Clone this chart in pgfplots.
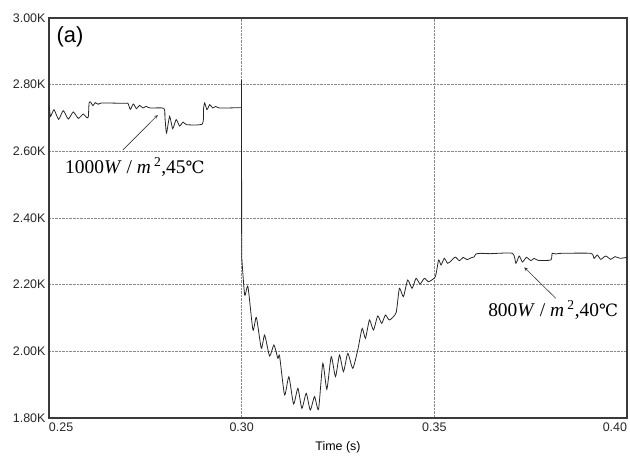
\documentclass[border=0pt]{standalone}
\usepackage{fontspec}
\setmainfont{Liberation Sans}
\newfontfamily\tnr{Liberation Serif}
\newfontfamily\dvs{DejaVu Serif}
\usepackage{pgfplots}
\pgfplotsset{compat=1.18}
\definecolor{axgray}{HTML}{3A3A3A}
\definecolor{gridgray}{HTML}{8A8A8A}
\begin{document}
\begin{tikzpicture}
\begin{axis}[
  scale only axis, width=578bp, height=400bp,
  xmin=0.25, xmax=0.40, ymin=1.80, ymax=3.00,
  axis line style={axgray, line width=1.6pt},
  xtick={0.25,0.30,0.35,0.40},
  xticklabels={\hbox to 0pt{0.25\hss},0.30,0.35,\hbox to 0pt{\hss 0.40}},
  ytick={1.8,2.0,2.2,2.4,2.6,2.8,3.0},
  yticklabels={1.80K,2.00K,2.20K,2.40K,2.60K,2.80K,3.00K},
  tick style={draw=none},
  ticklabel style={font=\fontsize{12.5}{13}\selectfont, text=black!85},
  xticklabel style={yshift=-1bp},
  grid=major,
  major grid style={gridgray, densely dotted, line width=0.7pt},
  xlabel={Time (s)},
  xlabel style={font=\fontsize{12.5}{13}\selectfont, at={(0.5,0)}, anchor=north, yshift=-20bp},
  clip=true,
]
\addplot[black!85, line width=0.8pt, smooth, tension=0.35] coordinates {
(0.2500,2.740)(0.2504,2.705)(0.2513,2.725)(0.2525,2.696)(0.2537,2.722)(0.2550,2.697)
(0.2563,2.718)(0.2576,2.699)(0.2589,2.712)(0.2597,2.702)(0.2602,2.703)(0.2604,2.745)
(0.2608,2.748)(0.2614,2.737)(0.2620,2.746)(0.2628,2.741)(0.2636,2.745)(0.2700,2.744)
(0.2705,2.744)(0.2711,2.726)(0.2719,2.742)(0.2727,2.728)(0.2735,2.738)(0.2744,2.730)
(0.2752,2.735)(0.2762,2.730)(0.2798,2.729)(0.2801,2.700)(0.2805,2.655)(0.2813,2.705)
(0.2821,2.668)(0.2830,2.695)(0.2839,2.676)(0.2848,2.688)(0.2857,2.680)(0.2898,2.682)
(0.2901,2.728)(0.2904,2.745)(0.2910,2.725)(0.2917,2.740)(0.2925,2.730)(0.2933,2.735)
(0.2942,2.730)(0.29995,2.731)
};
\addplot[black!85, line width=0.8pt] coordinates {
(0.29995,2.731)(0.29996,2.815)(0.30000,2.285)
};
\addplot[black!85, line width=0.8pt, smooth, tension=0.35] coordinates {
(0.30000,2.285)
(0.30078,2.169)(0.30163,2.194)(0.30293,2.064)(0.30381,2.102)(0.30510,2.009)(0.30596,2.049)
(0.30725,1.986)(0.30837,2.019)(0.30940,1.979)(0.30984,1.986)(0.31114,1.869)(0.31225,1.924)
(0.31347,1.842)(0.31459,1.889)(0.31562,1.829)(0.31676,1.874)(0.31780,1.824)(0.31891,1.864)
(0.31995,1.826)(0.32106,1.964)(0.32210,1.886)(0.32324,1.984)(0.32435,1.924)(0.32539,1.989)
(0.32642,1.939)(0.32754,1.994)(0.32883,1.949)(0.33013,2.004)(0.33127,2.069)(0.33212,2.039)
(0.33316,2.094)(0.33420,2.064)(0.33531,2.106)(0.33635,2.084)(0.33731,2.109)(0.33834,2.094)
(0.34008,2.116)(0.34093,2.189)(0.34197,2.164)(0.34308,2.214)(0.34422,2.189)(0.34526,2.219)
(0.34630,2.202)(0.34741,2.219)(0.34852,2.209)(0.35026,2.224)(0.35111,2.274)(0.35174,2.259)
(0.35259,2.279)(0.35345,2.264)(0.3544,2.272)(0.3554,2.283)(0.3565,2.272)(0.3575,2.282)
(0.3585,2.275)(0.3596,2.281)(0.3603,2.283)(0.3608,2.292)(0.3620,2.294)(0.3645,2.293)
(0.37028,2.294)(0.37116,2.264)(0.37202,2.286)(0.37288,2.268)(0.37391,2.282)(0.37505,2.272)
(0.3759,2.279)(0.3769,2.273)(0.38023,2.274)(0.38057,2.294)(0.3815,2.292)(0.3830,2.294)
(0.39060,2.294)(0.39145,2.279)(0.3923,2.289)(0.39318,2.276)(0.39448,2.286)(0.39578,2.276)
(0.39689,2.284)(0.3982,2.279)(0.4000,2.282)
};
\draw[-stealth, axgray, line width=0.6pt] (axis cs:0.26917,2.604) -- (axis cs:0.27824,2.709);
\draw[-stealth, axgray, line width=0.6pt] (axis cs:0.38153,2.159) -- (axis cs:0.37332,2.252);
\node[font=\tnr\fontsize{19.5}{21}\selectfont, fill=white, inner sep=1pt] at (axis cs:0.27228,2.553)
  {1000\textit{W} / \textit{m}\,\textsuperscript{2},45{\dvs\fontsize{17}{18}\selectfont ℃}};
\node[font=\tnr\fontsize{19.5}{21}\selectfont, fill=white, inner sep=1pt] at (axis cs:0.38083,2.124)
  {800\textit{W} / \textit{m}\,\textsuperscript{2},40{\dvs\fontsize{17}{18}\selectfont ℃}};
\node[font=\fontsize{22}{24}\selectfont, anchor=north west] at (rel axis cs:0,1) [xshift=4bp, yshift=-5bp] {(a)};
\node[font=\fontsize{9.5}{10}\selectfont, anchor=south west, inner sep=0pt] at (rel axis cs:0,1) [yshift=3bp] {p};
\end{axis}
\pgfresetboundingbox
\path (current axis.south west) ++(-49bp,-41bp) coordinate (bl);
\path (current axis.north east) ++(3bp,18bp) coordinate (tr);
\path[use as bounding box] (bl) rectangle (tr);
\end{tikzpicture}
\end{document}
